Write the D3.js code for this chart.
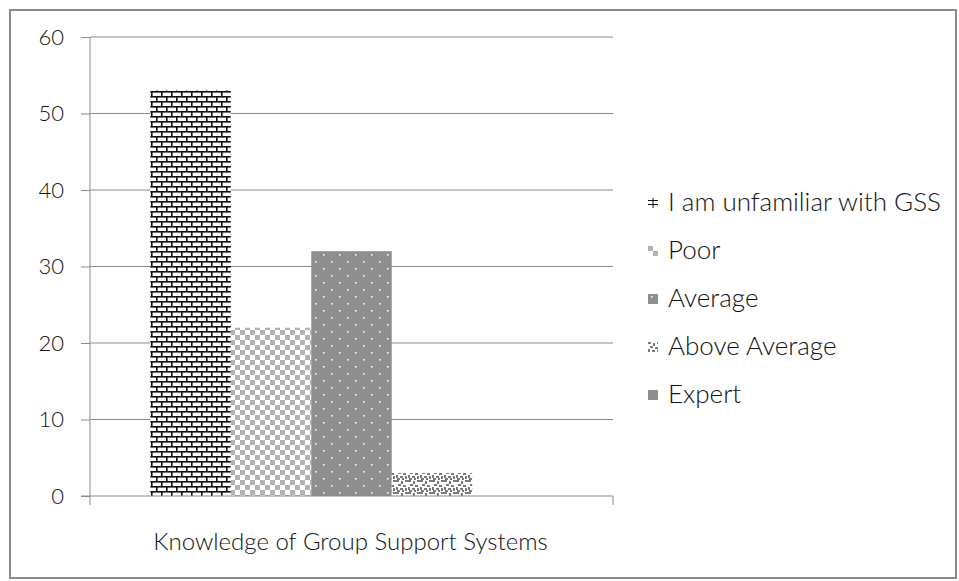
<!DOCTYPE html>
<html>
<head>
<meta charset="utf-8">
<script src="https://cdn.jsdelivr.net/npm/d3@7"></script>
<style>
  html, body { margin: 0; padding: 0; background: #fff; }
  svg { display: block; }
  text { font-family: Lato, "Open Sans", sans-serif; font-weight: 300; fill: #111; }
</style>
</head>
<body>
<svg id="chart" width="959" height="581"></svg>
<script>
// Survey responses: knowledge of Group Support Systems
const category = "Knowledge of Group Support Systems";
const seriesNames = ["I am unfamiliar with GSS", "Poor", "Average", "Above Average", "Expert"];
const seriesValues = [53, 22, 32, 3, 0];
const yTicks = [0, 10, 20, 30, 40, 50, 60];
const patternIds = ["pBrick", "pChecker", "pDots", "pSpeckle", "pSolid"];

const svg = d3.select("#chart");
const defs = svg.append("defs");

// brick fill
const brick = defs.append("pattern").attr("id", "pBrick").attr("patternUnits", "userSpaceOnUse")
  .attr("x", 151).attr("y", 1).attr("width", 10).attr("height", 10);
brick.append("rect").attr("width", 10).attr("height", 10).attr("fill", "#fff");
brick.append("rect").attr("x", 0).attr("y", 0).attr("width", 10).attr("height", 1.6).attr("fill", "#111");
brick.append("rect").attr("x", 0).attr("y", 5).attr("width", 10).attr("height", 1.6).attr("fill", "#111");
brick.append("rect").attr("x", 0).attr("y", 0).attr("width", 1.6).attr("height", 5).attr("fill", "#111");
brick.append("rect").attr("x", 5).attr("y", 5).attr("width", 1.6).attr("height", 5).attr("fill", "#111");

// checkerboard fill
const checker = defs.append("pattern").attr("id", "pChecker").attr("patternUnits", "userSpaceOnUse")
  .attr("width", 10).attr("height", 10);
checker.append("rect").attr("width", 10).attr("height", 10).attr("fill", "#fff");
checker.append("rect").attr("x", 0).attr("y", 0).attr("width", 5).attr("height", 5).attr("fill", "#b2b2b2");
checker.append("rect").attr("x", 5).attr("y", 5).attr("width", 5).attr("height", 5).attr("fill", "#b2b2b2");

// gray with sparse white dots
const dots = defs.append("pattern").attr("id", "pDots").attr("patternUnits", "userSpaceOnUse")
  .attr("width", 16).attr("height", 14);
dots.append("rect").attr("width", 16).attr("height", 14).attr("fill", "#8e8e8e");
dots.append("rect").attr("x", 3).attr("y", 2).attr("width", 1.6).attr("height", 1.6).attr("fill", "#fff");
dots.append("rect").attr("x", 11).attr("y", 9).attr("width", 1.6).attr("height", 1.6).attr("fill", "#fff");

// speckled fill
const speck = defs.append("pattern").attr("id", "pSpeckle").attr("patternUnits", "userSpaceOnUse")
  .attr("width", 12).attr("height", 12);
speck.append("rect").attr("width", 12).attr("height", 12).attr("fill", "#fff");
[[0,0,3,2],[5,1,2,3],[9,0,3,2],[2,4,3,2],[7,5,3,2],[0,7,2,3],[4,8,3,2],[9,8,2,3],[1,10,3,2],[6,10,2,2]]
  .forEach(([x, y, w, h]) => speck.append("rect").attr("x", x).attr("y", y).attr("width", w).attr("height", h).attr("fill", "#7a7a7a"));

const solid = defs.append("pattern").attr("id", "pSolid").attr("patternUnits", "userSpaceOnUse")
  .attr("width", 4).attr("height", 4);
solid.append("rect").attr("width", 4).attr("height", 4).attr("fill", "#8e8e8e");

// chart frame
svg.append("rect").attr("x", 10).attr("y", 10).attr("width", 946).attr("height", 568)
  .attr("fill", "#fff").attr("stroke", "#8a8a8a").attr("stroke-width", 2);

const plot = { left: 90, right: 613, top: 37, bottom: 496 };
const y = d3.scaleLinear().domain([0, 60]).range([plot.bottom, plot.top]);
const x = d3.scaleBand().domain(seriesNames).range([plot.left, plot.right])
  .paddingInner(0).paddingOuter(0.75);

// gridlines
svg.append("g").selectAll("line").data(yTicks.filter(t => t > 0)).join("line")
  .attr("x1", plot.left).attr("x2", plot.right)
  .attr("y1", d => y(d)).attr("y2", d => y(d))
  .attr("stroke", "#8a8a8a").attr("stroke-width", 1);

// y axis
const yAxis = svg.append("g").attr("transform", `translate(${plot.left},0)`)
  .call(d3.axisLeft(y).tickValues(yTicks).tickSize(9).tickPadding(17).tickFormat(d3.format("d")));
yAxis.select(".domain").remove();
yAxis.selectAll(".tick line").attr("stroke", "#8a8a8a");
yAxis.selectAll(".tick text").style("font-size", "22px").attr("fill", "#111")
  .style("font-family", "Lato, 'Open Sans', sans-serif").style("font-weight", 300);
svg.append("line").attr("x1", plot.left).attr("x2", plot.left).attr("y1", plot.top).attr("y2", plot.bottom + 9)
  .attr("stroke", "#8a8a8a");

// bars
svg.append("g").selectAll("rect").data(seriesNames).join("rect")
  .attr("x", d => x(d)).attr("width", x.bandwidth())
  .attr("y", (d, i) => y(seriesValues[i]))
  .attr("height", (d, i) => y(0) - y(seriesValues[i]))
  .attr("fill", (d, i) => `url(#${patternIds[i]})`);

// x axis
svg.append("line").attr("x1", plot.left - 9).attr("x2", plot.right).attr("y1", plot.bottom).attr("y2", plot.bottom)
  .attr("stroke", "#8a8a8a");
svg.append("line").attr("x1", plot.right).attr("x2", plot.right).attr("y1", plot.bottom).attr("y2", plot.bottom + 9)
  .attr("stroke", "#8a8a8a");
svg.append("text").attr("x", (plot.left + plot.right) / 2 - 1).attr("y", 550)
  .attr("text-anchor", "middle").style("font-size", "24px").text(category);

// legend
const legend = svg.append("g").attr("transform", "translate(648,198)");
const rows = legend.selectAll("g").data(seriesNames).join("g")
  .attr("transform", (d, i) => `translate(0,${i * 48})`);
rows.append("rect").attr("x", 0).attr("y", 0).attr("width", 10).attr("height", 10)
  .attr("fill", (d, i) => i === 0 ? "#fff" : `url(#${patternIds[i]})`);
// unfamiliar marker glyph
legend.append("path").attr("d", "M0,2.5H10M0,6.5H10M5,0V10")
  .attr("stroke", "#111").attr("stroke-width", 1).attr("fill", "none");
rows.append("text").attr("x", 20).attr("y", 13).style("font-size", "26px").text(d => d);
</script>
</body>
</html>
